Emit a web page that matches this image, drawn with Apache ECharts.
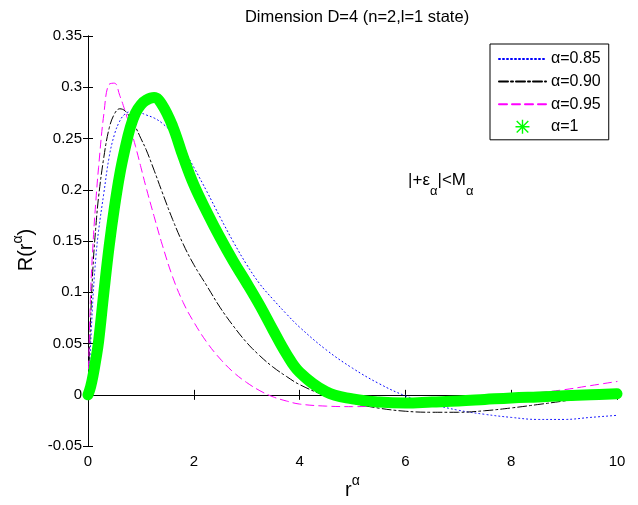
<!DOCTYPE html>
<html>
<head>
<meta charset="utf-8">
<script src="https://cdn.jsdelivr.net/npm/echarts@6/dist/echarts.min.js"></script>
<style>
html,body{margin:0;padding:0;background:#fff;}
#c{width:638px;height:505px;}
</style>
</head>
<body>
<div id="c"></div>
<script>
// ---- data ----
const titleText = 'Dimension D=4 (n=2,l=1 state)';
const seriesNames = ['α=0.85', 'α=0.90', 'α=0.95', 'α=1'];
const xTicks = [0, 2, 4, 6, 8, 10];
const yTicks = [-0.05, 0, 0.05, 0.1, 0.15, 0.2, 0.25, 0.3, 0.35];

const xs = [0, 0.05, 0.1, 0.15, 0.2, 0.3, 0.4, 0.5, 0.6, 0.7, 0.8, 0.9, 1.0, 1.1, 1.25, 1.4, 1.6, 1.8, 2.0, 2.25, 2.5, 2.75, 3.0, 3.25, 3.5, 3.75, 4.0, 4.5, 5.0, 5.5, 6.0, 6.5, 7.0, 7.5, 8.0, 8.5, 9.0, 9.5, 10];

const y085 = [0, 0.05, 0.10, 0.135, 0.16, 0.197, 0.232, 0.254, 0.267, 0.274, 0.276, 0.276, 0.275, 0.273, 0.270, 0.265, 0.255, 0.240, 0.222, 0.198, 0.173, 0.149, 0.127, 0.108, 0.093, 0.079, 0.066, 0.044, 0.026, 0.011, -0.001, -0.009, -0.015, -0.019, -0.022, -0.024, -0.024, -0.022, -0.020];

const y090 = [0, 0.075, 0.13, 0.165, 0.193, 0.232, 0.260, 0.274, 0.279, 0.277, 0.270, 0.261, 0.250, 0.239, 0.219, 0.198, 0.171, 0.147, 0.127, 0.106, 0.085, 0.067, 0.051, 0.038, 0.027, 0.018, 0.010, -0.001, -0.008, -0.013, -0.016, -0.017, -0.017, -0.0155, -0.0128, -0.0095, -0.006, -0.0025, 0.001];

const y095 = [0, 0.10, 0.152, 0.190, 0.222, 0.274, 0.303, 0.304, 0.292, 0.277, 0.260, 0.242, 0.222, 0.202, 0.174, 0.147, 0.115, 0.090, 0.071, 0.051, 0.035, 0.022, 0.012, 0.004, -0.002, -0.006, -0.009, -0.011, -0.0115, -0.011, -0.010, -0.008, -0.006, -0.004, -0.001, 0.002, 0.005, 0.009, 0.013];

const y100 = [0, 0.008, 0.02, 0.035, 0.052, 0.10, 0.145, 0.183, 0.215, 0.240, 0.261, 0.275, 0.283, 0.2875, 0.290, 0.283, 0.262, 0.232, 0.205, 0.178, 0.153, 0.130, 0.109, 0.087, 0.063, 0.040, 0.022, 0.003, -0.004, -0.007, -0.008, -0.007, -0.006, -0.0045, -0.003, -0.002, -0.001, 0.0, 0.001];

const annotationAt = [6.05, 0.205];

// ---- chart ----
const pair = ys => xs.map((x, i) => [x, ys[i]]);
const FONT = 'Liberation Sans, Arial, Helvetica, sans-serif';
const fmtY = v => parseFloat(v.toFixed(2)).toString();
const asterisk = 'path://M4.5 0H5.5V10H4.5Z M0 4.5H10V5.5H0Z M1.2 0.5L9.5 8.8L8.8 9.5L0.5 1.2Z M8.8 0.5L9.5 1.2L1.2 9.5L0.5 8.8Z';

const chart = echarts.init(document.getElementById('c'), null, {renderer: 'canvas'});
const axisCommon = {
  type: 'value',
  axisLine: {show: true, lineStyle: {color: '#000', width: 1}},
  axisTick: {show: true, inside: true, length: 5, lineStyle: {color: '#000'}},
  splitLine: {show: false}
};
const nameRich = {
  b: {fontFamily: FONT, fontSize: 20, color: '#000', lineHeight: 26, verticalAlign: 'bottom'},
  s: {fontFamily: FONT, fontSize: 14, color: '#000', lineHeight: 26, verticalAlign: 'top'}
};
const lineSeries = (name, ys, color, width, type) => ({
  name, type: 'line', data: pair(ys), smooth: 0.4,
  symbol: 'none', showSymbol: false,
  lineStyle: {color, width, type, join: 'round', cap: 'round'}, itemStyle: {color}
});
const option = {
  animation: false,
  backgroundColor: '#fff',
  textStyle: {fontFamily: FONT},
  title: {
    text: titleText,
    left: 352, top: 4, textAlign: 'center',
    textStyle: {fontFamily: FONT, fontSize: 16.5, fontWeight: 'normal', color: '#000'}
  },
  grid: {left: 88, right: 21, top: 36, bottom: 52},
  legend: {
    orient: 'vertical', left: 490, top: 44,
    padding: [7, 8, 5, 8],
    itemWidth: 47, itemHeight: 14, itemGap: 6.6,
    backgroundColor: '#fff', borderColor: '#000', borderWidth: 1, borderRadius: 0,
    textStyle: {fontFamily: FONT, fontSize: 16, color: '#000'},
    itemStyle: {opacity: 0},
    data: [
      {name: seriesNames[0]},
      {name: seriesNames[1]},
      {name: seriesNames[2]},
      {name: seriesNames[3], icon: asterisk, itemStyle: {color: '#00ff00', opacity: 1}}
    ]
  },
  xAxis: [
    Object.assign({}, axisCommon, {
      min: xTicks[0], max: xTicks[xTicks.length - 1], interval: 2, position: 'bottom',
      axisLabel: {fontFamily: FONT, fontSize: 15, color: '#000', margin: 8},
      name: '{b|r}{s|α}', nameLocation: 'middle', nameGap: 25,
      nameTextStyle: {rich: nameRich}
    }),
    Object.assign({}, axisCommon, {
      min: xTicks[0], max: xTicks[xTicks.length - 1], interval: 2, position: 'top',
      axisLabel: {show: false}
    })
  ],
  yAxis: [
    Object.assign({}, axisCommon, {
      min: yTicks[0], max: yTicks[yTicks.length - 1], interval: 0.05, position: 'left',
      axisLabel: {fontFamily: FONT, fontSize: 15, color: '#000', margin: 6, formatter: fmtY},
      name: '{b|R(r}{s|α}{b|)}', nameLocation: 'middle', nameGap: 48, nameRotate: 90,
      nameTextStyle: {rich: nameRich, padding: [0, 18, 0, 0]}
    }),
    Object.assign({}, axisCommon, {
      min: yTicks[0], max: yTicks[yTicks.length - 1], interval: 0.05, position: 'right',
      axisLabel: {show: false}
    })
  ],
  series: [
    lineSeries(seriesNames[0], y085, '#0000ff', 1, [1, 3]),
    lineSeries(seriesNames[1], y090, '#000000', 1, [9, 3, 2, 3]),
    lineSeries(seriesNames[2], y095, '#ff00ff', 1, [8, 5]),
    lineSeries(seriesNames[3], y100, '#00ff00', 11, 'solid')
  ]
};
chart.setOption(option);

const p = chart.convertToPixel({xAxisIndex: 0, yAxisIndex: 0}, annotationAt);
chart.setOption({
  graphic: [{
    type: 'text', x: p[0], y: p[1],
    style: {
      text: '{b|\u007C+ε}{s|α}{b|\u007C<M}{s|α}',
      rich: {
        b: {fontFamily: FONT, fontSize: 17, fill: '#000', lineHeight: 26, verticalAlign: 'top'},
        s: {fontFamily: FONT, fontSize: 13, fill: '#000', lineHeight: 26, verticalAlign: 'bottom'}
      },
      verticalAlign: 'middle', align: 'left'
    }
  }]
});
</script>
</body>
</html>
